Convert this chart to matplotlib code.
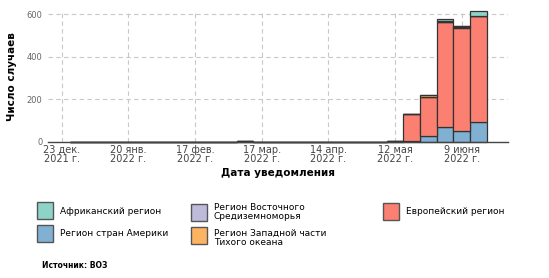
import numpy as np
import pandas as pd
import matplotlib
matplotlib.use("Agg")
import matplotlib.pyplot as plt
import matplotlib.dates as mdates
from matplotlib.patches import Rectangle

# --- Data: weekly confirmed cases by WHO region (week of notification) ---
weeks = pd.date_range("2021-12-30", periods=25, freq="7D")
americas = [0, 0, 0, 0, 0, 0, 0, 0, 0, 0, 0, 0, 0, 0, 0, 0, 0, 0, 0, 1, 3, 28, 68, 52, 91]
europe   = [1, 1, 1, 0, 0, 0, 1, 1, 0, 1, 2, 1, 0, 1, 1, 1, 0, 0, 1, 2, 127, 181, 494, 482, 500]
east_med = [0, 0, 0, 0, 0, 0, 0, 0, 0, 0, 0, 0, 0, 0, 0, 0, 0, 0, 0, 0, 0, 4, 3, 4, 0]
west_pac = [0, 0, 0, 0, 0, 0, 0, 0, 0, 0, 0, 0, 0, 0, 0, 0, 0, 0, 0, 0, 0, 5, 4, 5, 1]
africa   = [0, 0, 0, 0, 0, 0, 0, 0, 0, 0, 0, 0, 0, 0, 0, 0, 0, 0, 0, 0, 0, 2, 8, 0, 25]

tick_dates = pd.date_range("2021-12-23", periods=7, freq="28D")
tick_labels = ["23 дек.\n2021 г.", "20 янв.\n2022 г.", "17 фев.\n2022 г.", "17 мар.\n2022 г.",
               "14 апр.\n2022 г.", "12 мая\n2022 г.", "9 июня\n2022 г."]

regions = [
    ("Регион стран Америки", americas, "#80b1d3"),
    ("Европейский регион", europe, "#fb8072"),
    ("Регион Восточного\nСредиземноморья", east_med, "#bebada"),
    ("Регион Западной части\nТихого океана", west_pac, "#fdb462"),
    ("Африканский регион", africa, "#8dd3c7"),
]

plt.rcParams["font.family"] = ["DejaVu Sans"]

fig = plt.figure(figsize=(5.49, 2.78), dpi=100)
ax = fig.add_axes([0.0874, 0.49, 0.838, 0.47])

x = mdates.date2num(weeks)
bottom = np.zeros(len(weeks))
for name, vals, color in regions:
    vals = np.array(vals, dtype=float)
    ax.bar(x, vals, width=7, bottom=bottom, color=color, edgecolor="#333333",
           linewidth=0.9, zorder=3, clip_on=False)
    bottom += vals

t0 = mdates.date2num(tick_dates[0])
ax.set_xlim(t0 - 5.7, t0 + 187.5)
ax.set_ylim(0, 615)
ax.set_xticks(mdates.date2num(tick_dates))
ax.set_xticklabels(tick_labels, fontsize=7, color="#444444", linespacing=0.95)
ax.set_yticks([0, 200, 400, 600])
ax.tick_params(axis="y", length=0, pad=4, labelsize=6, labelcolor="#666666")
ax.tick_params(axis="x", length=0, pad=2)

ax.grid(True, linestyle=(0, (4, 3)), color="#c8c8c8", linewidth=0.8, zorder=0)
for s in ["top", "right", "left"]:
    ax.spines[s].set_visible(False)
ax.spines["bottom"].set_color("#444444")
ax.spines["bottom"].set_linewidth(1.0)
ax.spines["bottom"].set_zorder(4)

ax.set_ylabel("Число случаев", fontsize=7.5, fontweight="bold", labelpad=7)
ax.set_xlabel("Дата уведомления", fontsize=7.5, fontweight="bold", labelpad=3)

# --- Legend (laid out in pixel coordinates like the reference) ---
W, H = 549, 278
legend_items = [
    ("Африканский регион", "#8dd3c7", 37, 202, 211),
    ("Регион стран Америки", "#80b1d3", 37, 225, 233),
    ("Регион Восточного\nСредиземноморья", "#bebada", 191, 204, 212),
    ("Регион Западной части\nТихого океана", "#fdb462", 191, 227, 238),
    ("Европейский регион", "#fb8072", 383, 203, 211),
]
for label, color, bx, by, ty in legend_items:
    fig.add_artist(Rectangle((bx / W, 1 - (by + 17) / H), 16 / W, 17 / H,
                             transform=fig.transFigure, facecolor=color,
                             edgecolor="#555555", linewidth=1))
    fig.text((bx + 23) / W, 1 - ty / H, label, fontsize=6.5, color="black",
             va="center", ha="left", linespacing=0.95)

fig.text(42 / W, 1 - 265 / H, "Источник: ВОЗ", fontsize=5.5, fontweight="bold",
         va="center", ha="left")

fig.savefig("out.png", dpi=100)
